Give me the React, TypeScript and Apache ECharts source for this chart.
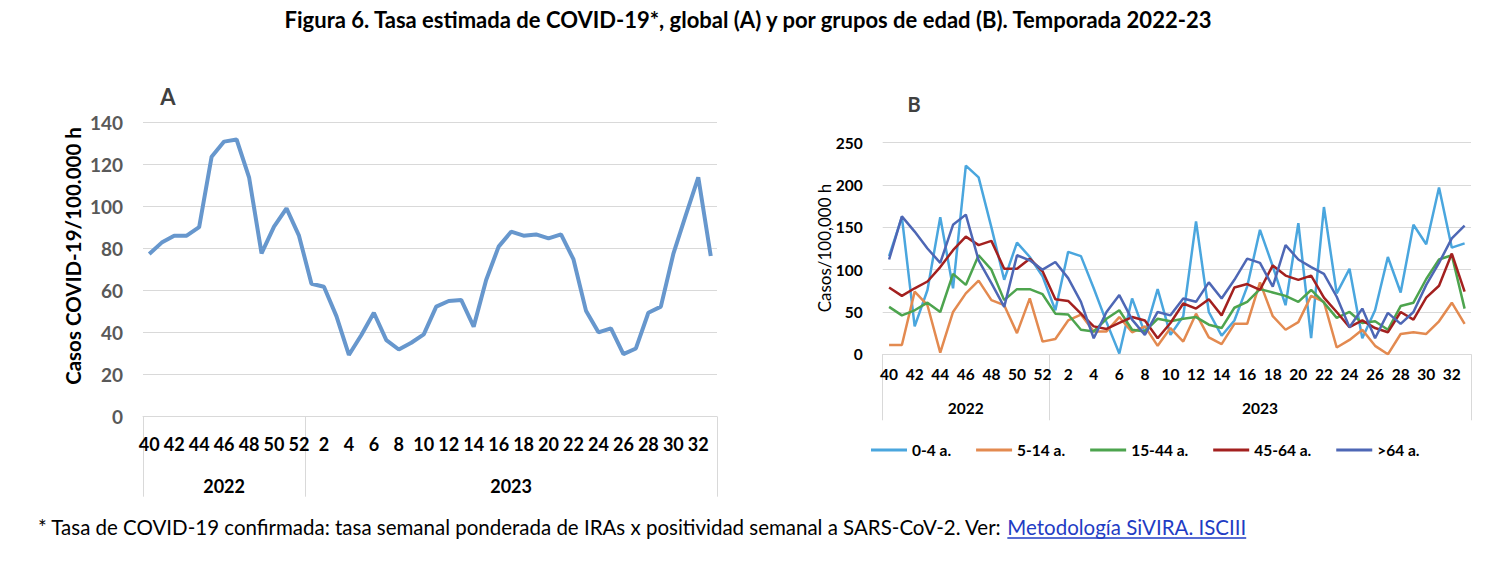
import React, { useEffect, useRef } from 'react';
import * as echarts from 'echarts';

const weeks = ['40','41','42','43','44','45','46','47','48','49','50','51','52',
  '1','2','3','4','5','6','7','8','9','10','11','12','13','14','15','16','17','18','19','20',
  '21','22','23','24','25','26','27','28','29','30','31','32','33'];

const yearLabels = ['2022', '2023'];

const globalRate = [77.5, 82.9, 86.2, 86.2, 90.3, 123.8, 131, 132, 114, 77.8, 90.5, 99.2, 86.2,
  63.3, 61.9, 47.9, 29.4, 38.9, 49.5, 36.5, 32, 35.2, 39.2, 52.4, 55.1, 55.6, 42.9, 65.1, 81, 88.1, 86.2,
  86.8, 84.9, 86.8, 74.9, 50.5, 40.2, 42.1, 29.8, 32.5, 49.5, 52.4, 77.5, 96, 114, 76.5];

const age0_4 = [116, 162, 33, 76, 162, 78, 223, 209, 150, 88, 132, 115, 92,
  52, 121, 116, 78, 38, 1, 66, 25, 77, 23, 45, 157, 50, 22, 40, 80, 147, 104, 58, 155,
  19, 174, 72, 101, 19, 52, 115, 73, 153, 130, 197, 126, 131];
const age5_14 = [11, 11, 74, 58, 2, 50, 72, 87, 64, 58, 25, 66, 15,
  18, 40, 47, 27, 27, 44, 26, 33, 10, 31, 15, 48, 20, 12, 36, 36, 85, 45, 29, 38,
  69, 62, 8, 17, 29, 10, 0, 24, 26, 24, 39, 61, 36];
const age15_44 = [56, 46, 52, 61, 50, 95, 82, 117, 100, 64, 77, 77, 71,
  48, 47, 29, 27, 42, 52, 29, 27, 42, 39, 42, 44, 35, 31, 55, 62, 77, 73, 69, 62,
  76, 61, 43, 50, 37, 39, 29, 57, 61, 89, 112, 117, 54];
const age45_64 = [79, 69, 78, 86, 103, 123, 139, 129, 134, 101, 101, 113, 98,
  65, 63, 48, 33, 30, 37, 44, 40, 19, 37, 60, 54, 65, 46, 79, 83, 76, 105, 93, 88,
  93, 67, 50, 32, 40, 31, 26, 50, 41, 67, 81, 119, 74];
const age64 = [112, 163, 145, 125, 108, 153, 165, 111, 84, 56, 117, 111, 100,
  109, 90, 62, 19, 50, 70, 41, 23, 50, 46, 66, 62, 85, 66, 88, 113, 108, 80, 129, 112,
  103, 95, 68, 32, 54, 19, 49, 36, 50, 82, 108, 137, 152];

const groupNames = ['0-4 a.', '5-14 a.', '15-44 a.', '45-64 a.', '>64 a.'];
const groupData = [age0_4, age5_14, age15_44, age45_64, age64];
const groupColors = ['#4AA6DE', '#E38A50', '#4DA44E', '#A3201F', '#4E67B5'];

const titleText = 'Figura 6. Tasa estimada de COVID-19*, global (A) y por grupos de edad (B). Temporada 2022-23';
const noteText = '* Tasa de COVID-19 confirmada: tasa semanal ponderada de IRAs x positividad semanal a SARS-CoV-2. Ver: ';
const linkText = 'Metodología SiVIRA. ISCIII';
const yNameA = 'Casos COVID-19/100.000 h';
const yNameB = 'Casos/100,000 h';

const F = 'Lato, "Open Sans", sans-serif';

function measure(text: string, font: string): number {
  const c = document.createElement('canvas').getContext('2d');
  if (!c) return text.length * 9;
  c.font = font;
  return c.measureText(text).width;
}

export default function App() {
  const ref = useRef<HTMLDivElement>(null);
  useEffect(() => {
    if (!ref.current) return;
    const chart = echarts.init(ref.current, null, { renderer: 'svg' });

    // footnote fit: starts at 38, ends at 1247
    const baseFont = (s: number) => `${s}px Lato`;
    const full = measure(noteText + linkText, baseFont(18));
    const noteSize = 18 * (1209 / full);
    const noteW = measure(noteText, baseFont(noteSize));
    const linkW = measure(linkText, baseFont(noteSize));
    const linkX = 38 + noteW;

    // title fit: spans 283 to 1213
    const tFull = measure(titleText, `bold 20px Lato`);
    const titleSize = 20 * (930 / tFull);

    const boxTick = (i: number) => i === 0 || i === 13;
    const yearIdx = (i: number) => i === 6 || i === 29;
    const yearFmt = (_v: string, i: number) => (i === 6 ? yearLabels[0] : yearLabels[1]);

    chart.setOption({
      animation: false,
      backgroundColor: '#ffffff',
      textStyle: { fontFamily: F },
      grid: [
        { left: 143, top: 122.7, width: 574, height: 294 },
        { left: 882.7, top: 142.7, width: 588.3, height: 211.6 },
      ],
      xAxis: [
        {
          gridIndex: 0, type: 'category', data: weeks, boundaryGap: true, position: 'bottom',
          axisLine: { lineStyle: { color: '#d9d9d9', width: 1 } },
          axisTick: { show: true, length: 80, interval: boxTick, lineStyle: { color: '#d9d9d9' } },
          axisLabel: { interval: 1, margin: 18, fontSize: 18, fontWeight: 'bold', color: '#000', fontFamily: F },
        },
        {
          gridIndex: 0, type: 'category', data: weeks, boundaryGap: true, position: 'bottom', offset: 0,
          axisLine: { show: false }, axisTick: { show: false },
          axisLabel: { interval: yearIdx, formatter: yearFmt, margin: 60, fontSize: 18, fontWeight: 'bold', color: '#000', fontFamily: F },
        },
        {
          gridIndex: 1, type: 'category', data: weeks, boundaryGap: true, position: 'bottom',
          axisLine: { lineStyle: { color: '#d9d9d9', width: 1 } },
          axisTick: { show: true, length: 66, interval: boxTick, lineStyle: { color: '#d9d9d9' } },
          axisLabel: { interval: 1, margin: 12, fontSize: 15.5, fontWeight: 'bold', color: '#000', fontFamily: F },
        },
        {
          gridIndex: 1, type: 'category', data: weeks, boundaryGap: true, position: 'bottom', offset: 0,
          axisLine: { show: false }, axisTick: { show: false },
          axisLabel: { interval: yearIdx, formatter: yearFmt, margin: 46, fontSize: 15.5, fontWeight: 'bold', color: '#000', fontFamily: F },
        },
      ],
      yAxis: [
        {
          gridIndex: 0, type: 'value', min: 0, max: 140, interval: 20,
          axisLine: { show: false }, axisTick: { show: false },
          splitLine: { lineStyle: { color: '#d9d9d9', width: 1 } },
          axisLabel: { margin: 20, fontSize: 19, fontWeight: 'bold', color: '#595959', fontFamily: F },
        },
        {
          gridIndex: 1, type: 'value', min: 0, max: 250, interval: 50,
          axisLine: { show: false }, axisTick: { show: false },
          splitLine: { lineStyle: { color: '#d9d9d9', width: 1 } },
          axisLabel: { margin: 20, fontSize: 15.5, fontWeight: 'bold', color: '#000', fontFamily: F },
        },
      ],
      legend: {
        data: groupNames.map((n) => ({ name: n, icon: 'rect' })),
        left: 866, top: 437,
        itemWidth: 36, itemHeight: 3, itemGap: 25,
        textStyle: { fontFamily: F, fontSize: 15.5, fontWeight: 'bold', color: '#000' },
      },
      series: [
        {
          name: 'Global', type: 'line', xAxisIndex: 0, yAxisIndex: 0, data: globalRate,
          symbol: 'none', lineStyle: { width: 4, color: '#6797CD' }, itemStyle: { color: '#6797CD' },
        },
        ...groupNames.map((n, k) => ({
          name: n, type: 'line', xAxisIndex: 2, yAxisIndex: 1, data: groupData[k],
          symbol: 'none', lineStyle: { width: 2.5, color: groupColors[k] }, itemStyle: { color: groupColors[k] },
        })),
      ],
      graphic: [
        { type: 'text', x: 748, y: 19, style: { text: titleText, font: `bold ${titleSize}px Lato`, fill: '#000', align: 'center', verticalAlign: 'middle' } },
        { type: 'text', x: 168, y: 96, style: { text: 'A', font: `bold 22px ${F}`, fill: '#404040', align: 'center', verticalAlign: 'middle' } },
        { type: 'text', x: 914, y: 104, style: { text: 'B', font: `bold 20px ${F}`, fill: '#404040', align: 'center', verticalAlign: 'middle' } },
        { type: 'text', x: 73, y: 256, rotation: Math.PI / 2, style: { text: yNameA, font: `bold 20.5px ${F}`, fill: '#000', align: 'center', verticalAlign: 'middle' } },
        { type: 'text', x: 824, y: 248, rotation: Math.PI / 2, style: { text: yNameB, font: `17px ${F}`, fill: '#000', align: 'center', verticalAlign: 'middle' } },
        { type: 'text', x: 38, y: 527, style: { text: noteText, font: `${noteSize}px Lato`, fill: '#000', align: 'left', verticalAlign: 'middle' } },
        { type: 'text', x: linkX, y: 527, style: { text: linkText, font: `${noteSize}px Lato`, fill: '#1F3CC4', align: 'left', verticalAlign: 'middle' } },
        { type: 'line', shape: { x1: linkX, y1: 538, x2: linkX + linkW, y2: 538 }, style: { stroke: '#1F3CC4', lineWidth: 1.5 } },
      ],
    });
    return () => chart.dispose();
  }, []);
  return <div ref={ref} style={{ position: 'absolute', left: 0, top: 0, width: 1502, height: 570, background: '#fff' }} />;
}
